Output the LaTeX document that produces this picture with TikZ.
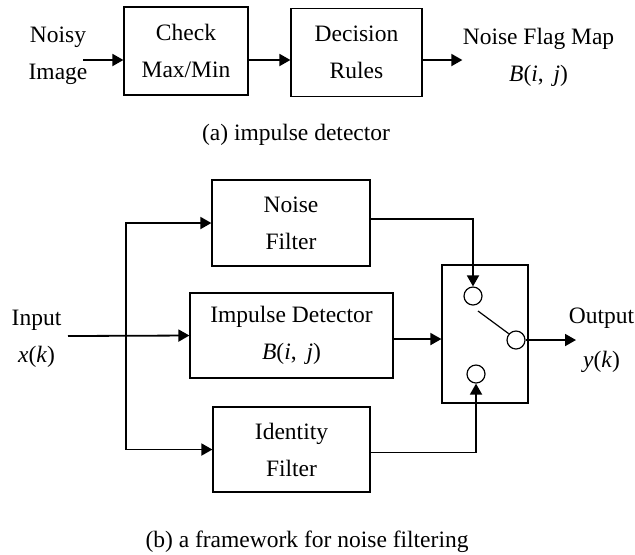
\documentclass[tikz,border=0pt]{standalone}
\usepackage{fontspec}
\setmainfont{Liberation Serif}
\usetikzlibrary{arrows.meta,
                calc,
                positioning}
\tikzset{
        txt/.style={font=\fontsize{11.75pt}{18.5pt}\selectfont},
        base/.style={draw, txt, align=center, line width=0.6pt},
        proc/.style={base, rectangle, minimum height=43pt},
        lbl/.style={txt, align=center, inner sep=0pt},
        port/.style={circle, draw, line width=0.6pt, inner sep=0pt,
                     minimum size=9pt},
        wire/.style={line width=0.9pt},
        myarrow/.style={wire, -{Triangle[length=5.5pt, width=6pt]}},
        >={Triangle[length=5.5pt, width=6pt]},
 }
\newcommand{\Bij}{\textit{B}(\textit{i}, \,\textit{j})}

\begin{document}
\begin{tikzpicture}[x=0.5pt, y=-0.5pt]
    \useasboundingbox (0,0) rectangle (635,554);

    % (a) impulse detector
    \node[lbl] (noisy) at (58,56) {Noisy\\Image};
    \node[proc, minimum width=62pt, minimum height=44pt] (check) at (186,51)
         {Check\\Max/Min};
    \node[proc, minimum width=65.5pt, minimum height=44pt] (decision)
         at (356.5,52.5) {Decision\\Rules};
    \node[lbl] (flag) at (538.5,57) {Noise Flag Map\\\Bij};
    \coordinate (a0) at (83,60);
    \draw[myarrow] (a0) -- (check.west |- a0);
    \draw[myarrow] (check.east |- a0) -- (decision.west |- a0);
    \draw[myarrow] (decision.east |- a0) -- (flag.west |- a0);
    \node[txt, anchor=base] (capa) at (296,140) {(a) impulse detector};

    % (b) framework
    \node[lbl] (input) at (36.5,339) {Input\\\textit{x}(\textit{k})};
    \node[proc, minimum width=79pt] (noise) at (291,223) {Noise\\Filter};
    \node[proc, minimum width=101.5pt, minimum height=42.5pt] (impulse)
         at (291.5,335.5) {Impulse Detector\\\Bij};
    \node[proc, minimum width=78.5pt, minimum height=42.5pt] (ident)
         at (291.5,449.5) {Identity\\Filter};
    \node[base, minimum width=43pt, minimum height=69pt] (sw) at (485,334) {};
    \node[port] (ctop) at (473,296) {};
    \node[port] (cbot) at (476,374) {};
    \node[port] (cright) at (516,340) {};
    \node[lbl] (output) at (601.5,340.5) {Output\\[3.5pt]\textit{y}(\textit{k})};

    \coordinate (in) at (68,336);
    \coordinate (split) at (126,336);
    \coordinate (out) at (576,340);
    \draw[myarrow] (in) -- (impulse.west);
    \draw[wire, <->] (noise.west) -| (split) |- (ident.west);
    \draw[myarrow] ([yshift=2pt]noise.east) -| (ctop.north);
    \draw[myarrow] ([yshift=-1.5pt]ident.east) -| (cbot.south);
    \draw[myarrow] ($(impulse.east)+(0,3.5)$) -- ($(impulse.east -| sw.west)+(0,3.5)$);
    \draw[line width=0.6pt] ($(cright)+(-38,-29)$) -- (cright.139);
    \draw[myarrow] (cright.east) -- (out);

    \node[txt, anchor=base] (capb) at (307,547) {(b) a framework for noise filtering};
\end{tikzpicture}
\end{document}
